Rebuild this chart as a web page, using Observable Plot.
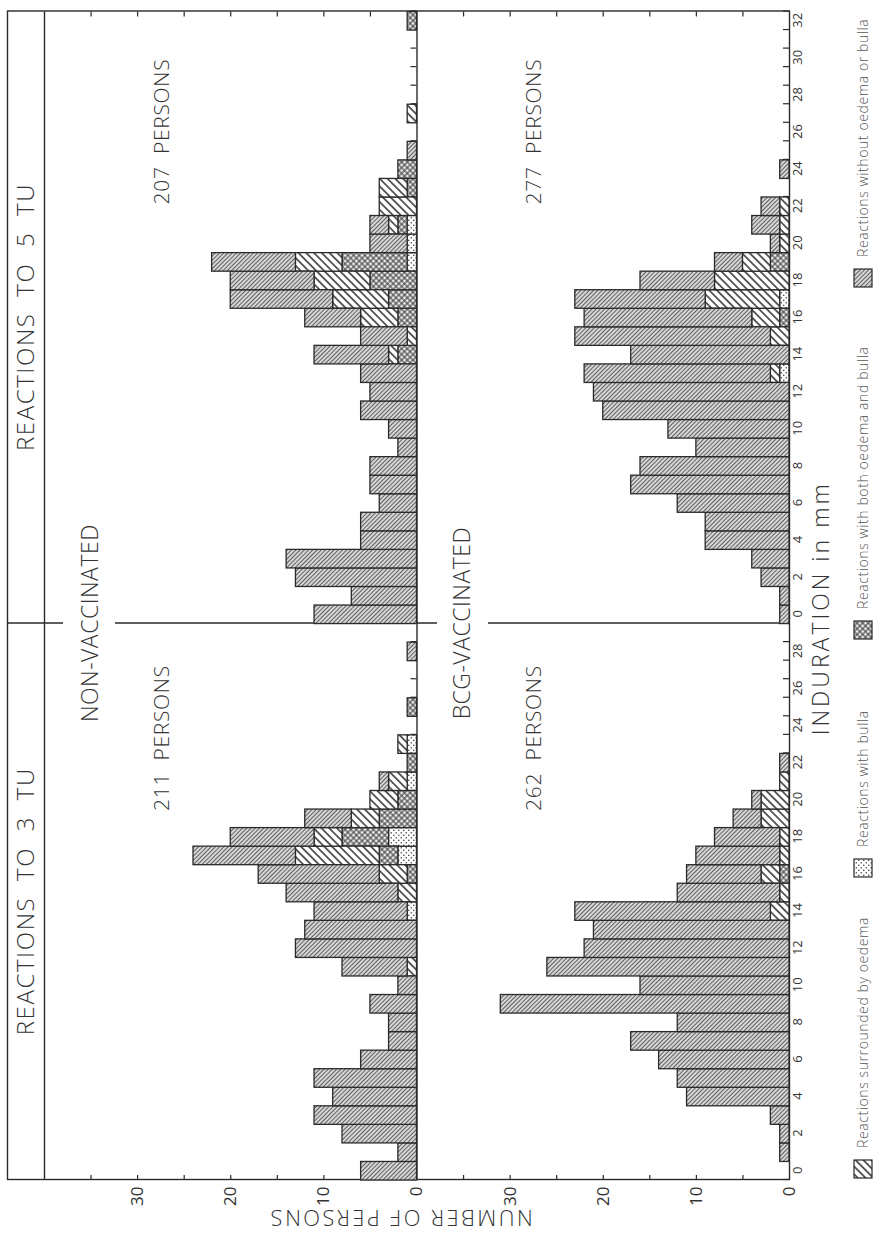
<!DOCTYPE html>
<html>
<head>
<meta charset="utf-8">
<script src="https://cdn.jsdelivr.net/npm/d3@7"></script>
<script src="https://cdn.jsdelivr.net/npm/@observablehq/plot@0.6"></script>
<style>
  html, body { margin: 0; padding: 0; background: #fff; }
  #wrap { position: relative; width: 876px; height: 1234px; overflow: hidden; background: #fff; }
  #wrap > svg { position: absolute; left: 0; top: 0; transform-origin: 0 0; transform: translate(0px, 1234px) rotate(-90deg); }
</style>
</head>
<body>
<div id="wrap"></div>
<script>
// ---------------- DATA ----------------
// induration bins (mm)
const mm3TU = [0,1,2,3,4,5,6,7,8,9,10,11,12,13,14,15,16,17,18,19,20,21,22,23,24,25,26,27,28,29];
const mm5TU = [0,1,2,3,4,5,6,7,8,9,10,11,12,13,14,15,16,17,18,19,20,21,22,23,24,25,26,27,28,29,30,31,32];

// stacking order from the baseline outward
const categories = ["bulla", "both", "oedema", "without"];
const tuPanels = ["3 TU", "5 TU"];
const groups = ["NON-VACCINATED", "BCG-VACCINATED"];

// Non-vaccinated, 3 TU
const nonvac3_without = [6,2,8,11,9,11,6,3,3,5, 2,7,13,12,10,12,13,11,9,5, 0,1,0,0,0,0,0,0,1,0];
const nonvac3_oedema  = [0,0,0,0,0,0,0,0,0,0, 0,1,0,0,0,2,3,9,3,3, 3,2,0,1,0,0,0,0,0,0];
const nonvac3_both    = [0,0,0,0,0,0,0,0,0,0, 0,0,0,0,0,0,1,2,5,4, 2,0,1,0,0,1,0,0,0,0];
const nonvac3_bulla   = [0,0,0,0,0,0,0,0,0,0, 0,0,0,0,1,0,0,2,3,0, 0,1,0,1,0,0,0,0,0,0];

// Non-vaccinated, 5 TU
const nonvac5_without = [11,7,13,14,6,6,4,5,5,2, 3,6,5,6,8,5,6,11,9,9, 4,2,0,0,0,1,0,0,0,0, 0,0,0];
const nonvac5_oedema  = [0,0,0,0,0,0,0,0,0,0, 0,0,0,0,1,1,4,6,6,5, 0,1,4,3,0,0,0,1,0,0, 0,0,0];
const nonvac5_both    = [0,0,0,0,0,0,0,0,0,0, 0,0,0,0,2,0,2,3,5,7, 0,1,0,1,2,0,0,0,0,0, 0,0,1];
const nonvac5_bulla   = [0,0,0,0,0,0,0,0,0,0, 0,0,0,0,0,0,0,0,0,1, 1,1,0,0,0,0,0,0,0,0, 0,0,0];

// BCG-vaccinated, 3 TU
const bcg3_without = [0,1,1,2,11,12,14,17,12,31, 16,26,22,21,21,11,8,9,7,3, 1,0,1,0,0,0,0,0,0,0];
const bcg3_oedema  = [0,0,0,0,0,0,0,0,0,0, 0,0,0,0,2,1,2,1,1,3, 3,1,0,0,0,0,0,0,0,0];
const bcg3_both    = [0,0,0,0,0,0,0,0,0,0, 0,0,0,0,0,0,1,0,0,0, 0,0,0,0,0,0,0,0,0,0];
const bcg3_bulla   = [0,0,0,0,0,0,0,0,0,0, 0,0,0,0,0,0,0,0,0,0, 0,0,0,0,0,0,0,0,0,0];

// BCG-vaccinated, 5 TU
const bcg5_without = [1,1,3,4,9,9,12,17,16,10, 13,20,21,20,17,21,18,14,8,3, 1,3,2,0,1,0,0,0,0,0, 0,0,0];
const bcg5_oedema  = [0,0,0,0,0,0,0,0,0,0, 0,0,0,1,0,2,3,8,8,3, 1,1,1,0,0,0,0,0,0,0, 0,0,0];
const bcg5_both    = [0,0,0,0,0,0,0,0,0,0, 0,0,0,0,0,0,1,0,0,2, 0,0,0,0,0,0,0,0,0,0, 0,0,0];
const bcg5_bulla   = [0,0,0,0,0,0,0,0,0,0, 0,0,0,1,0,0,0,1,0,0, 0,0,0,0,0,0,0,0,0,0, 0,0,0];

// axis tick values
const countLabelTicks = [0, 10, 20, 30];
const countMinorTicks = [5, 10, 15, 20, 25, 30, 35];
const mmLabelTicks3 = [0,2,4,6,8,10,12,14,16,18,20,22,24,26,28];
const mmLabelTicks5 = [0,2,4,6,8,10,12,14,16,18,20,22,24,26,28,30,32];

const legendItems = [
  {category: "oedema",  label: "Reactions surrounded by oedema"},
  {category: "bulla",   label: "Reactions with bulla"},
  {category: "both",    label: "Reactions with both oedema and bulla"},
  {category: "without", label: "Reactions without oedema or bulla"}
];

// ---------------- LAYOUT (chart drawn in its upright orientation, then turned) ----------------
const W = 1234, H = 876;
const M = {left: 54, right: 11.5, top: 44, bottom: 87};
const frameW = W - M.left - M.right;
const frameH = H - M.top - M.bottom;
const COUNT_SPAN = 40;                         // each row spans 0..40 persons
const tuOffset = {"3 TU": 0, "5 TU": mm3TU.length};
const groupOffset = {"NON-VACCINATED": COUNT_SPAN, "BCG-VACCINATED": 0};
const pxPerCount = frameH / (2 * COUNT_SPAN);
const ink = "#2a2a2a";
const FONT = "'Open Sans', Lato, 'DejaVu Sans', sans-serif";

const panels = [
  {tu: "3 TU", group: "NON-VACCINATED", mm: mm3TU, series: {without: nonvac3_without, oedema: nonvac3_oedema, both: nonvac3_both, bulla: nonvac3_bulla}},
  {tu: "5 TU", group: "NON-VACCINATED", mm: mm5TU, series: {without: nonvac5_without, oedema: nonvac5_oedema, both: nonvac5_both, bulla: nonvac5_bulla}},
  {tu: "3 TU", group: "BCG-VACCINATED", mm: mm3TU, series: {without: bcg3_without, oedema: bcg3_oedema, both: bcg3_both, bulla: bcg3_bulla}},
  {tu: "5 TU", group: "BCG-VACCINATED", mm: mm5TU, series: {without: bcg5_without, oedema: bcg5_oedema, both: bcg5_both, bulla: bcg5_bulla}}
];

// stacked segments table
const rows = [];
const edgeRows = [];
for (const p of panels) {
  const xo = tuOffset[p.tu], yo = groupOffset[p.group];
  p.total = 0;
  p.mm.forEach((mm, i) => {
    let acc = 0;
    for (const c of categories) {
      const v = p.series[c][i];
      if (v > 0) rows.push({category: c, x1: xo + mm - 0.5, x2: xo + mm + 0.5, y1: yo + acc, y2: yo + acc + v});
      acc += v;
    }
    p.total += acc;
    edgeRows.push({x: xo + mm - 0.5, y: yo});
    if (i === p.mm.length - 1) edgeRows.push({x: xo + mm + 0.5, y: yo});
  });
}

const yTicksMinor = groups.flatMap(g => countMinorTicks.map(t => t + groupOffset[g]));
const yTicksLabel = groups.flatMap(g => countLabelTicks.map(t => t + groupOffset[g]));
const xTicksLabel = [...mmLabelTicks3.map(t => t + tuOffset["3 TU"]), ...mmLabelTicks5.map(t => t + tuOffset["5 TU"])];
const boundary = tuOffset["5 TU"] - 0.5;
const xMax = tuOffset["5 TU"] + mm5TU.length - 0.5;

const titleText = tu => `REACTIONS  TO  ${tu.replace(" ", "  ")}`;
const personsText = p => `${p.total}  PERSONS`;

const chart = Plot.plot({
  width: W, height: H,
  marginLeft: M.left, marginRight: M.right, marginTop: M.top, marginBottom: M.bottom,
  x: {domain: [-0.5, xMax], axis: null},
  y: {domain: [0, 2 * COUNT_SPAN], axis: null},
  style: {fontFamily: FONT, background: "#fff", color: ink, overflow: "visible"},
  marks: [
    // outer frame incl. title strip
    Plot.frame({stroke: ink, strokeWidth: 1.4, insetTop: -37}),
    Plot.ruleY([2 * COUNT_SPAN, COUNT_SPAN], {stroke: ink, strokeWidth: 1.4}),
    // divider between 3 TU and 5 TU (broken where the group names cross it)
    Plot.ruleX([boundary], {stroke: ink, strokeWidth: 1.4, insetTop: -37, insetBottom: frameH - 19}),
    Plot.ruleX([boundary], {stroke: ink, strokeWidth: 1.4, insetTop: 71, insetBottom: 352}),
    Plot.ruleX([boundary], {stroke: ink, strokeWidth: 1.4, insetTop: 444}),
    // inward count ticks on both sides
    Plot.tickY(yTicksMinor, {y: d => d, insetRight: frameW - 5, stroke: ink, strokeWidth: 1.2}),
    Plot.tickY(yTicksMinor, {y: d => d, insetLeft: frameW - 5, stroke: ink, strokeWidth: 1.2}),
    // inward induration (bin edge) ticks on both baselines
    Plot.ruleX(edgeRows, {x: "x", y1: "y", y2: d => d.y + 6 / pxPerCount, stroke: ink, strokeWidth: 1.2}),
    // stacked bars
    ...categories.map(c => Plot.rect(rows.filter(r => r.category === c), {
      x1: "x1", x2: "x2", y1: "y1", y2: "y2",
      fill: `url(#pat-${c})`, stroke: ink, strokeWidth: 1.3
    })),
    // axes
    Plot.axisY(yTicksLabel, {tickFormat: d => d % COUNT_SPAN, tickSize: 0, tickPadding: 7, fontSize: 17, fill: "#333", label: null}),
    Plot.axisX(xTicksLabel, {tickFormat: d => d >= tuOffset["5 TU"] ? d - tuOffset["5 TU"] : d, tickSize: 0, tickPadding: 3, fontSize: 13, fill: "#333", label: null}),
    // titles in the strip
    Plot.text(tuPanels, {
      x: tu => tuOffset[tu] + ((tu === "3 TU" ? mm3TU.length : mm5TU.length) - 1) / 2,
      y: 2 * COUNT_SPAN, dy: -18, text: titleText,
      fontSize: 24, fontWeight: 300, fill: "#333", lineAnchor: "middle"
    }),
    // group names crossing the divider
    Plot.text(groups, {
      x: boundary, y: g => groupOffset[g] + COUNT_SPAN, dy: 46, text: d => d,
      fontSize: 23, fontWeight: 300, fill: "#333", lineAnchor: "middle"
    }),
    // persons per panel
    Plot.text(panels, {
      x: p => tuOffset[p.tu] + (p.tu === "3 TU" ? 23.3 : 26),
      y: p => groupOffset[p.group] + 27.4,
      text: personsText,
      fontSize: 21, fontWeight: 300, fill: "#333", lineAnchor: "middle"
    }),
    // axis titles
    Plot.text(["INDURATION in mm"], {frameAnchor: "bottom", textAnchor: "middle", dx: -13, dy: 32.5, text: d => d, fontSize: 23, fontWeight: 300, fill: "#333", lineAnchor: "middle"}),
    Plot.text(["NUMBER OF PERSONS"], {frameAnchor: "left", textAnchor: "middle", rotate: -90, dx: -38, dy: -16.5, text: d => d, fontSize: 22, fontWeight: 300, fill: "#333", lineAnchor: "middle"})
  ]
});

// letter spacing of the stencil lettering (set on the rendered text elements)
const spacing = new Map([
  ...tuPanels.map(tu => [titleText(tu), 1.6]),
  ...groups.map(g => [g, 0.5]),
  ...panels.map(p => [personsText(p), 0.7]),
  ["INDURATION in mm", 3],
  ["NUMBER OF PERSONS", 2.4]
]);
d3.select(chart).selectAll("text").each(function () {
  const s = spacing.get(this.textContent);
  if (s != null) this.setAttribute("letter-spacing", s);
});

// ---------------- patterns ----------------
const defs = d3.select(chart).insert("defs", ":first-child");
function hatch(id, size, angle, bg, color, width) {
  const p = defs.append("pattern").attr("id", id).attr("patternUnits", "userSpaceOnUse")
    .attr("width", size).attr("height", size).attr("patternTransform", `rotate(${angle})`);
  p.append("rect").attr("width", size).attr("height", size).attr("fill", bg);
  p.append("line").attr("x1", size / 2).attr("x2", size / 2).attr("y1", 0).attr("y2", size)
    .attr("stroke", color).attr("stroke-width", width);
  return p;
}
hatch("pat-without", 3, -45, "#d6d6d6", "#606060", 1);
hatch("pat-oedema", 5.5, 45, "#ffffff", "#2e2e2e", 1.5);
const both = hatch("pat-both", 4, 45, "#eeeeee", "#333", 1);
both.append("line").attr("x1", 0).attr("x2", 4).attr("y1", 2).attr("y2", 2).attr("stroke", "#333").attr("stroke-width", 1);
const dots = defs.append("pattern").attr("id", "pat-bulla").attr("patternUnits", "userSpaceOnUse").attr("width", 5).attr("height", 5);
dots.append("rect").attr("width", 5).attr("height", 5).attr("fill", "#fff");
dots.append("circle").attr("cx", 1.2).attr("cy", 1.2).attr("r", 0.75).attr("fill", "#333");
dots.append("circle").attr("cx", 3.7).attr("cy", 3.7).attr("r", 0.75).attr("fill", "#333");

// ---------------- legend (below the chart, upright orientation) ----------------
const legendX = [56, 357, 595, 947];
const lg = d3.select(chart).append("g").attr("font-family", FONT).attr("font-size", 14).attr("fill", "#555").attr("text-anchor", "start");
legendItems.forEach((it, i) => {
  lg.append("rect").attr("x", legendX[i]).attr("y", 854).attr("width", 18).attr("height", 18)
    .attr("fill", `url(#pat-${it.category})`).attr("stroke", ink).attr("stroke-width", 1.2);
  lg.append("text").attr("x", legendX[i] + 30).attr("y", 863).attr("dy", "0.35em")
    .attr("text-anchor", "start").attr("font-weight", 300).attr("letter-spacing", 0.6).text(it.label);
});

chart.style.maxWidth = "none";
chart.style.width = W + "px";
chart.style.height = H + "px";
document.getElementById("wrap").appendChild(chart);
</script>
</body>
</html>
